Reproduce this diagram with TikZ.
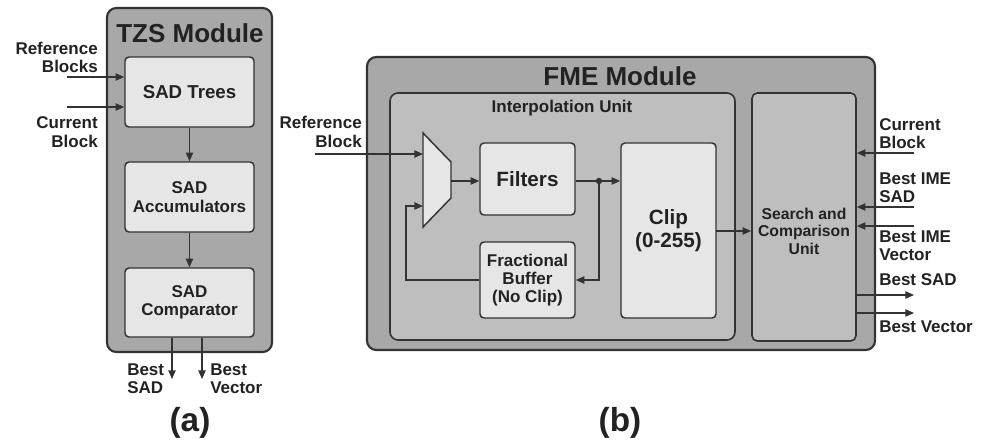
\documentclass[tikz,border=0pt]{standalone}
\usepackage{fontspec}
\setmainfont{Liberation Sans}
\usetikzlibrary{fit,arrows.meta}
\definecolor{outerc}{HTML}{A8A8A8}
\definecolor{midc}{HTML}{BEBEBE}
\definecolor{boxc}{HTML}{E6E6E6}
\definecolor{linec}{HTML}{333333}
\definecolor{txtc}{HTML}{222222}
\tikzset{
  module/.style={draw=linec, line width=1.6pt, fill=outerc, rounded corners=7pt, inner sep=0pt},
  unit/.style={draw=linec, line width=1.2pt, fill=midc, rounded corners=6pt, inner sep=0pt},
  blockbox/.style={draw=linec, line width=1.1pt, fill=boxc, rounded corners=3pt, inner sep=0pt, align=center, text=txtc,
    font=\fontsize{12.75}{13.8}\selectfont\bfseries},
  lbl/.style={text=txtc, font=\fontsize{12.75}{13.8}\selectfont\bfseries, inner sep=0pt},
  title/.style={text=txtc, font=\fontsize{19.5}{22}\selectfont\bfseries, inner sep=0pt},
  capt/.style={text=txtc, font=\fontsize{25}{27}\selectfont\bfseries, inner sep=0pt},
  arr/.style={draw=linec, line width=1pt, -{Triangle[length=6.5pt,width=5.5pt]}},
  wire/.style={draw=linec, line width=1pt},
}
\begin{document}
\begin{tikzpicture}[x=0.75pt,y=-0.75pt]
\useasboundingbox (0,0) rectangle (989,444);
\fill[white] (0,0) rectangle (989,444);

% ---------- (a) TZS Module ----------
\node[module, fit={(107,8)(272,352)}] (tzs) {};
\node[title] (tzst) at (190,33) {TZS Module};
\node[blockbox, fit={(125,57)(254,127)}] (trees) {};
\node[lbl, font=\fontsize{14}{15}\selectfont\bfseries] at (trees.center) {SAD Trees};
\node[blockbox, fit={(125,162)(254,232)}] (accum) {};
\node[lbl, align=center] at (accum.center) {SAD\\Accumulators};
\node[blockbox, fit={(125,268)(254,337)}] (comp) {};
\node[lbl, align=center] at (comp.center) {SAD\\Comparator};

\draw[arr] (trees.south) -- (accum.north);
\draw[arr] (accum.south) -- (comp.north);

\coordinate (rbin) at (67,77);
\coordinate (cbin) at (67,107);
\draw[arr] (rbin) -- (rbin -| trees.west);
\draw[arr] (cbin) -- (cbin -| trees.west);
\node[lbl, anchor=east, align=right] (rbl) at (98,57.5) {Reference\\Blocks};
\node[lbl, anchor=east, align=right] (cbl) at (98,132) {Current\\Block};

\coordinate (bsout) at (172,379);
\coordinate (bvout) at (202,379);
\draw[arr] (bsout |- comp.south) -- (bsout);
\draw[arr] (bvout |- comp.south) -- (bvout);
\node[lbl, anchor=west, align=left] (bsl) at (127,378.5) {Best\\SAD};
\node[lbl, anchor=west, align=left] (bvl) at (210,378.5) {Best\\Vector};
\node[capt] (capa) at (190,423) {(a)};

% ---------- (b) FME Module ----------
\node[module, fit={(367,57)(875,350)}] (fme) {};
\node[title] (fmet) at (620,76) {FME Module};
\node[unit, fit={(390,93)(735,340)}] (interp) {};
\node[lbl] (interpl) at (562,108) {Interpolation Unit};
\node[unit, rounded corners=4pt, fit={(752,93)(856,341)}] (search) {};
\node[lbl, align=center, font=\fontsize{11.8}{13.2}\selectfont\bfseries] (searchl) at (804,231) {Search and\\Comparison\\Unit};

% mux
\draw[draw=linec, line width=1.1pt, fill=boxc] (423,133) -- (451,162) -- (451,198) -- (423,227) -- cycle;
\coordinate (muxa) at (423,154);
\coordinate (muxb) at (423,206);
\coordinate (muxo) at (451,181);

\node[blockbox, fit={(480,143)(575,215)}] (filt) {};
\node[lbl, font=\fontsize{15.5}{17}\selectfont\bfseries] at (filt.center) {Filters};
\node[blockbox, fit={(621,143)(716,318)}] (clip) {};
\node[lbl, align=center, font=\fontsize{15.5}{17.5}\selectfont\bfseries] at (clip.center) {Clip\\(0-255)};
\node[blockbox, fit={(480,242)(575,318)}] (frac) {};
\node[lbl, align=center] at (frac.center) {Fractional\\Buffer\\(No Clip)};

\coordinate (refin) at (315,154);
\draw[arr] (refin) -- (muxa);
\node[lbl, anchor=east, align=right] (refl) at (362,132) {Reference\\Block};

\draw[arr] (muxo) -- (muxo -| filt.west);
\coordinate (split) at (599,181);
\draw[wire] (split -| filt.east) -- (split);
\draw[arr] (split) -- (split -| clip.west);
\fill[linec] (split) circle (2.4pt);
\coordinate (fbin) at (599,280);
\draw[arr] (split) -- (fbin) -- (fbin -| frac.east);
\coordinate (fbl) at (406,280);
\draw[arr] (fbl -| frac.west) -- (fbl) -- (fbl |- muxb) -- (muxb);

\coordinate (clipo) at (716,231);
\draw[arr] (clipo) -- (clipo -| search.west);

% right side I/O
\coordinate (cbr) at (914,153);
\coordinate (bisr) at (914,207);
\coordinate (bivr) at (914,226);
\coordinate (bsr) at (914,295);
\coordinate (bvr) at (914,313);
\draw[arr] (cbr) -- (cbr -| search.east);
\draw[arr] (bisr) -- (bisr -| search.east);
\draw[arr] (bivr) -- (bivr -| search.east);
\draw[arr] (bsr -| search.east) -- (bsr);
\draw[arr] (bvr -| search.east) -- (bvr);
\node[lbl, anchor=west, align=left] (cbrl) at (879,133.5) {Current\\Block};
\node[lbl, anchor=west, align=left] (bisl) at (879,188) {Best IME\\SAD};
\node[lbl, anchor=west, align=left] (bivl) at (879,245.5) {Best IME\\Vector};
\node[lbl, anchor=west] (bsrl) at (879,280) {Best SAD};
\node[lbl, anchor=west] (bvrl) at (879,327) {Best Vector};
\node[capt] (capb) at (620,423) {(b)};
\end{tikzpicture}
\end{document}
